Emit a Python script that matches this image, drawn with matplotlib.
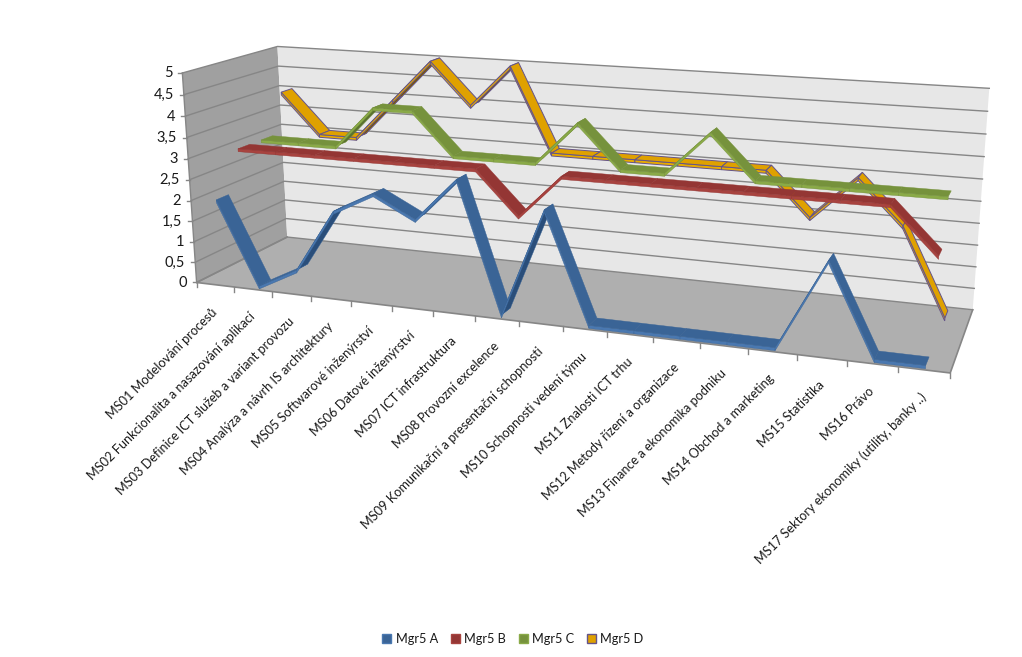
import numpy as np
import matplotlib
matplotlib.use("Agg")
import matplotlib.pyplot as plt
from matplotlib.patches import Patch, Polygon

plt.rcParams['font.family'] = ['Lato', 'DejaVu Sans']

categories = ["MS01 Modelování procesů", "MS02 Funkcionalita a nasazování aplikací",
              "MS03 Definice ICT služeb a variant provozu", "MS04 Analýza a návrh IS architektury",
              "MS05 Softwarové inženýrství", "MS06 Datové inženýrství", "MS07 ICT infrastruktura",
              "MS08 Provozní excelence", "MS09 Komunikační a presentační schopnosti",
              "MS10 Schopnosti vedení týmu", "MS11 Znalosti ICT trhu", "MS12 Metody řízení a organizace",
              "MS13 Finance a ekonomika podniku", "MS14 Obchod a marketing", "MS15 Statistika",
              "MS16 Právo", "MS17 Sektory ekonomiky (utility, banky ..)"]
mgr_a = [2, 0, 0.5, 2, 2.5, 2, 3, 0, 2.5, 0, 0, 0, 0, 0, 2, 0, 0]
mgr_b = [3, 3, 3, 3, 3, 3, 3, 2, 3, 3, 3, 3, 3, 3, 3, 3, 2]
mgr_c = [3, 3, 3, 4, 4, 3, 3, 3, 4, 3, 3, 4, 3, 3, 3, 3, 3]
mgr_d = [4, 3, 3, 4, 5, 4, 5, 3, 3, 3, 3, 3, 3, 2, 3, 2, 0]
series_names = ["Mgr5 A", "Mgr5 B", "Mgr5 C", "Mgr5 D"]
y_ticks = [0, 0.5, 1, 1.5, 2, 2.5, 3, 3.5, 4, 4.5, 5]
y_labels = ["0", "0,5", "1", "1,5", "2", "2,5", "3", "3,5", "4", "4,5", "5"]

# (top face, side face, edge, underside) per series
colors = [("#3A6496", "#4A78B0", "#3A6496", "#2A4E7A"),
          ("#943634", "#A8433F", "#943634", "#6B2523"),
          ("#76923C", "#8AAA48", "#76923C", "#5A7230"),
          ("#DFA100", "#E8AC00", "#64548A", "#7A5800")]

# camera fitted to the chart box, some ticks and ribbon peaks: (category, value, depth) -> pixel
world = np.array([[0, 0, 0], [0, 5, 0], [0, 0, 4], [0, 5, 4], [17, 0, 0], [17, 0, 4], [17, 5, 4],
                  [4, 0, 0], [8, 0, 0], [13, 0, 0],
                  [4.5, 5, 3.5], [11.5, 4, 2.5], [14.5, 3, 3.5], [8.5, 4, 2.5], [7.5, 2, 1.5]], float)
pixel = np.array([[197, 282], [182, 73], [287, 237], [277, 47], [950, 373], [973, 310], [989, 90],
                  [352, 301], [519, 322], [748, 349],
                  [436, 60], [715, 129], [860, 173], [582, 119], [520, 214]], float)
rows = []
rhs = []
for (X, Y, Z), (u, v) in zip(world, pixel):
    rows.append([X, Y, Z, 1, 0, 0, 0, 0, -u*X, -u*Y, -u*Z])
    rows.append([0, 0, 0, 0, X, Y, Z, 1, -v*X, -v*Y, -v*Z])
    rhs += [u, v]
cam = np.append(np.linalg.lstsq(np.array(rows), np.array(rhs), rcond=None)[0], 1).reshape(3, 4)


def pr(x, y, z):
    p = cam @ np.array([x, y, z, 1.0])
    return p[:2] / p[2]


def quad(ax, pts, fc, ec=None, lw=0, zo=1):
    ax.add_patch(Polygon([pr(*p) for p in pts], closed=True, fc=fc, ec=ec if ec else fc, lw=lw, zorder=zo))


def area(pts):
    q = np.array([pr(*p) for p in pts])
    return 0.5*np.sum(q[:, 0]*np.roll(q[:, 1], -1) - np.roll(q[:, 0], -1)*q[:, 1])


fig = plt.figure(figsize=(10.22, 6.57), dpi=100)
ax = fig.add_axes([0, 0, 1, 1])
ax.set_xlim(0, 1022)
ax.set_ylim(657, 0)
ax.axis("off")

# walls and floor
quad(ax, [(0, 0, 0), (0, 5, 0), (0, 5, 4), (0, 0, 4)], "#A0A0A0")
quad(ax, [(0, 0, 4), (0, 5, 4), (17, 5, 4), (17, 0, 4)], "#E7E7E7")
quad(ax, [(0, 0, 0), (0, 0, 4), (17, 0, 4), (17, 0, 0)], "#AFAFAF")

grid_c = "#868686"
for val, lab in zip(y_ticks, y_labels):
    pts = np.array([pr(0, val, 0), pr(0, val, 4), pr(17, val, 4)])
    ax.plot(pts[:, 0], pts[:, 1], color=grid_c, lw=1, zorder=2)
    a = pr(0, val, 0)
    ax.plot([a[0]-4, a[0]], [a[1], a[1]], color=grid_c, lw=1, zorder=2)
    ax.text(a[0]-10, a[1]+0.5, lab, ha="right", va="center", fontsize=10.5, color="#1a1a1a")

edge = np.array([pr(0, 0, 4), pr(0, 0, 0), pr(17, 0, 0), pr(17, 0, 4)])
ax.plot(edge[:, 0], edge[:, 1], color=grid_c, lw=1.2, zorder=2)
axl = np.array([pr(0, 0, 0), pr(0, 5, 0)])
ax.plot(axl[:, 0], axl[:, 1], color=grid_c, lw=1, zorder=2)
for i in range(18):
    a = pr(i, 0, 0)
    ax.plot([a[0], a[0]], [a[1], a[1]+5], color=grid_c, lw=1, zorder=2)

for i, cat in enumerate(categories):
    a = pr(i+0.5, 0, 0)
    ax.text(a[0]-4, a[1]+21, cat, rotation=45, ha="right", va="top", rotation_mode="anchor",
            fontsize=9.2, color="#1a1a1a")

# ribbons, back to front
half = 0.25
thick = 0.07
all_series = [mgr_a, mgr_b, mgr_c, mgr_d]
zo = 3
for k in [3, 2, 1, 0]:
    vals = all_series[k]
    top, side, ec, under = colors[k]
    zc = k + 0.5
    for i in range(16):
        x0, x1 = i+0.5, i+1.5
        y0, y1 = vals[i], vals[i+1]
        face = [(x0, y0, zc-half), (x1, y1, zc-half), (x1, y1, zc+half), (x0, y0, zc+half)]
        wall = [(x0, y0, zc-half), (x1, y1, zc-half), (x1, y1-thick, zc-half), (x0, y0-thick, zc-half)]
        lw_edge = 0.7 if k == 3 else 0.3
        if area(face) > 0:
            # top face flipped on screen: the underside shows, front side lies over it
            quad(ax, face, under, ec, lw_edge, zo)
            quad(ax, wall, side, ec, lw_edge, zo+1)
        else:
            quad(ax, wall, side, ec, lw_edge, zo)
            quad(ax, face, top, ec, lw_edge, zo+1)
        zo += 2

handles = [Patch(fc=c[0], ec=c[2] if n == 3 else c[1], lw=1, label=s)
           for n, (c, s) in enumerate(zip(colors, series_names))]
ax.legend(handles=handles, ncol=4, loc="center", bbox_to_anchor=(513/1022, 1-639/657), frameon=False,
          fontsize=9.2, handlelength=0.7, handleheight=0.7, handletextpad=0.35, columnspacing=1.0,
          labelcolor="#1a1a1a")

fig.savefig("out.png", dpi=100)
